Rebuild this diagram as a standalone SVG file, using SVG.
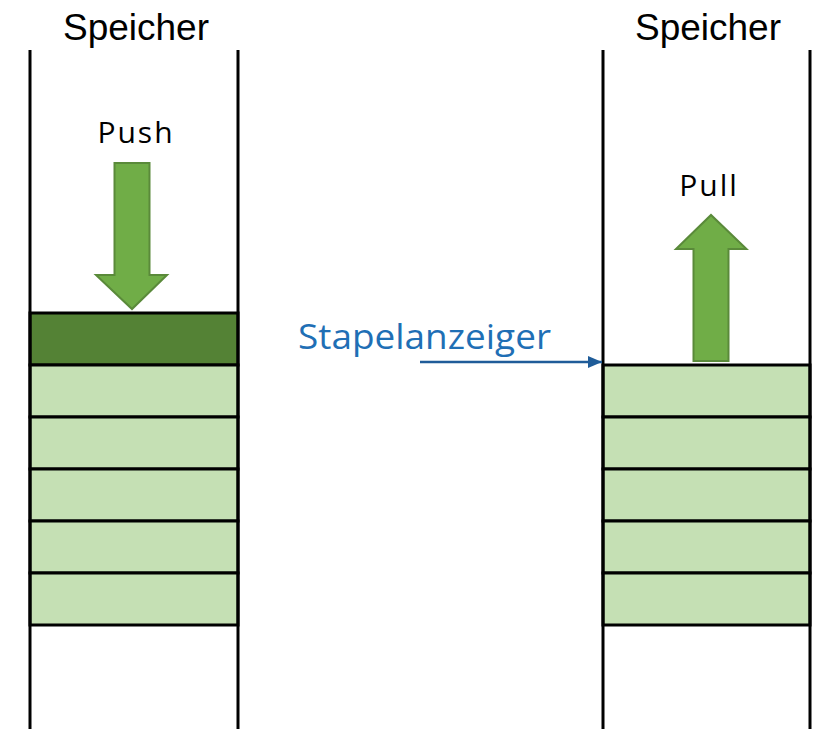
<svg xmlns="http://www.w3.org/2000/svg" width="818" height="729" viewBox="0 0 818 729">
  <style>
    .wall { stroke: #000; stroke-width: 3; fill: none; }
    .cell { fill: #C5E0B4; stroke: #000; stroke-width: 3; }
    .top { fill: #548235; stroke: #000; stroke-width: 3; }
    .big { fill: #70AD47; stroke: #5A8A3A; stroke-width: 2; }
    .title { font-family: "Liberation Sans", Arial, sans-serif; font-size: 37px; fill: #000; text-anchor: middle; }
    .op { font-family: "Open Sans", "Noto Sans", sans-serif; font-size: 30px; letter-spacing: 2px; fill: #000; text-anchor: middle; }
    .ptr { font-family: "Open Sans", "Noto Sans", sans-serif; font-size: 35px; fill: #1F6FB5; }
  </style>
  <defs>
    <marker id="tri" viewBox="0 0 14 12" refX="14" refY="6" markerWidth="14" markerHeight="12" markerUnits="userSpaceOnUse" orient="auto">
      <path d="M0,0 L14,6 L0,12 z" fill="#1F5C99"/>
    </marker>
  </defs>
  <rect width="818" height="729" fill="#fff"/>

  <!-- left stack: push -->
  <g id="stack-push">
    <text class="title" x="136" y="40">Speicher</text>
    <rect class="top" x="30" y="313" width="208" height="52"/>
    <rect class="cell" x="30" y="365" width="208" height="52"/>
    <rect class="cell" x="30" y="417" width="208" height="52"/>
    <rect class="cell" x="30" y="469" width="208" height="52"/>
    <rect class="cell" x="30" y="521" width="208" height="52"/>
    <rect class="cell" x="30" y="573" width="208" height="52"/>
    <line class="wall" x1="30" y1="50" x2="30" y2="729"/>
    <line class="wall" x1="238" y1="50" x2="238" y2="729"/>
    <text class="op" x="136" y="143">Push</text>
    <path class="big" d="M114.5,163 L149.5,163 L149.5,275 L167,275 L132,309 L96,275 L114.5,275 Z"/>
  </g>

  <!-- right stack: pull -->
  <g id="stack-pull">
    <text class="title" x="708" y="40">Speicher</text>
    <rect class="cell" x="603" y="365" width="207" height="52"/>
    <rect class="cell" x="603" y="417" width="207" height="52"/>
    <rect class="cell" x="603" y="469" width="207" height="52"/>
    <rect class="cell" x="603" y="521" width="207" height="52"/>
    <rect class="cell" x="603" y="573" width="207" height="52"/>
    <line class="wall" x1="603" y1="50" x2="603" y2="729"/>
    <line class="wall" x1="810" y1="50" x2="810" y2="729"/>
    <text class="op" x="709" y="196">Pull</text>
    <path class="big" d="M693.5,361 L728.5,361 L728.5,249 L746.5,249 L711,215 L676,249 L693.5,249 Z"/>
  </g>

  <!-- stack pointer -->
  <g id="pointer">
    <text class="ptr" x="298" y="349" textLength="253" lengthAdjust="spacingAndGlyphs">Stapelanzeiger</text>
  </g>
  <g id="connectors">
    <line x1="420" y1="362" x2="602" y2="362" stroke="#1F5C99" stroke-width="2.5" marker-end="url(#tri)"/>
  </g>
</svg>
